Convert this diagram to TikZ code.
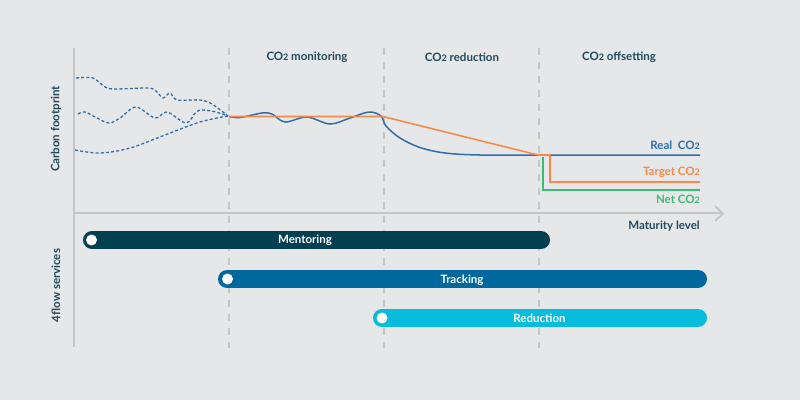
\documentclass[tikz,border=0pt]{standalone}
\usepackage{fontspec}
\setmainfont{Lato}
\definecolor{bgc}{HTML}{E6E7E9}
\definecolor{axisc}{HTML}{C4C5C7}
\definecolor{inkc}{HTML}{1F4A5C}
\definecolor{realc}{HTML}{2F6FA8}
\definecolor{targetc}{HTML}{F58A4B}
\definecolor{netc}{HTML}{3DBB75}
\definecolor{mentorc}{HTML}{023F50}
\definecolor{trackc}{HTML}{00689D}
\definecolor{reducec}{HTML}{06BBDC}
\newcommand{\cotwo}{CO{\fontsize{9}{9}\selectfont 2}}
\tikzset{
  x=1pt,y=-1pt,
  txt/.style={font=\fontsize{11.5}{13}\selectfont\bfseries,text=inkc,inner sep=0pt},
  axisline/.style={draw=axisc,line width=1.8pt},
  phase/.style={draw=axisc,line width=1.8pt,dash pattern=on 7pt off 7pt},
  past/.style={draw=realc,line width=1.3pt,dash pattern=on 3pt off 2.2pt},
  bar/.style={line width=18pt,line cap=round},
  dot/.style={circle,fill=white,draw=none,minimum size=11pt,inner sep=0pt},
  barlabel/.style={txt,text=white}
}
\begin{document}
\begin{tikzpicture}
\path[fill=bgc] (0,0) rectangle (800,400);
\useasboundingbox (0,0) rectangle (800,400);
% phases
\foreach \xx in {229,384,539} \draw[phase] (\xx,48) -- (\xx,348);
% axes
\coordinate (org) at (74,213);
\coordinate (ytop) at (74,48);
\coordinate (ybot) at (74,347);
\coordinate (xend) at (722,213);
\draw[axisline] (ytop) -- (ybot);
\draw[axisline] (org) -- (xend);
\draw[axisline] (715,206) -- (723,213.5) -- (715,221);
% past curves
\coordinate (join) at (228,116);
\draw[past] plot[smooth,tension=0.5] coordinates {(76,78) (93,78) (105,87) (115,89) (148,88) (156,91) (163,98) (170,93) (177,100) (200,100) (212,104) (228,116)};
\draw[past] plot[smooth,tension=0.55] coordinates {(78,114) (85,112) (97,118) (109,123) (120,118) (136,107) (155,118) (167,112) (186,123) (196,112) (203,110) (216,112) (228,116)};
\draw[past] plot[smooth,tension=0.6] coordinates {(75,150) (100,153) (130,148) (165,135) (200,122) (228,116)};
% real
\draw[draw=realc,line width=1.5pt] plot[smooth,tension=0.55] coordinates {(229,116.5) (240,117.5) (262,113) (272,114) (285,122) (307,117) (330,124) (350,118) (369,112) (381,116) (386,126) (400,138) (420,147.5) (445,153) (480,155) (539,155)} -- (700,155);
% target
\draw[draw=targetc,line width=1.6pt] (229,116.5) -- (383,116.5) -- (538,155) -- (550,155) -- (550,182) -- (700,182);
% net
\draw[draw=netc,line width=1.5pt] (543,157) -- (543,190) -- (700,190);
% bars
\draw[bar,mentorc] (92,240) -- (541,240);
\draw[bar,trackc] (227,279) -- (698,279);
\draw[bar,reducec] (382,318) -- (698,318);
\node[dot] (d1) at (91.5,240) {};
\node[dot] (d2) at (227.5,279) {};
\node[dot] (d3) at (382,318) {};
\node[barlabel] (l1) at (305,240) {Mentoring};
\node[barlabel] (l2) at (462,280) {Tracking};
\node[barlabel] (l3) at (539.5,318) {Reduction};
% labels
\node[txt] (p1) at (307,57.5) {\cotwo{} monitoring};
\node[txt] (p2) at (462,57.5) {\cotwo{} reduction};
\node[txt] (p3) at (619,57.5) {\cotwo{} offsetting};
\node[txt,rotate=90] (yl1) at (56,129) {Carbon footprint};
\node[txt,rotate=90] (yl2) at (56,285.5) {4flow services};
\node[txt,anchor=east] (m) at (700,226) {Maturity level};
\node[txt,anchor=east,text=realc] (r) at (700,145) {Real\ \ \cotwo};
\node[txt,anchor=east,text=targetc] (t) at (700,172) {Target \cotwo};
\node[txt,anchor=east,text=netc] (n) at (700,199.5) {Net \cotwo};
\end{tikzpicture}
\end{document}
